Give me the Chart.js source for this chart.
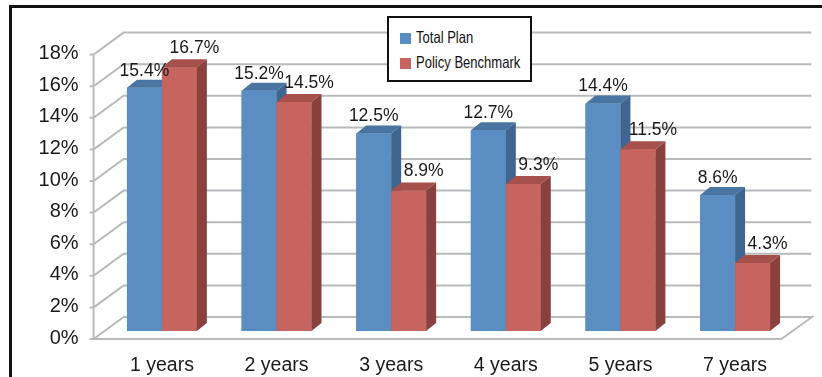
<!DOCTYPE html>
<html>
<head>
<meta charset="utf-8">
<script src="https://cdn.jsdelivr.net/npm/chart.js@4"></script>
<style>
  html, body { margin: 0; padding: 0; background: #fff; }
  #wrap { position: relative; width: 822px; height: 377px; overflow: hidden; }
  #frame { position: absolute; left: 9px; top: 5px; width: 830px; height: 400px;
    border-top: 3px solid #111; border-left: 3px solid #111; pointer-events: none; }
  #legend { position: absolute; left: 387px; top: 16px; width: 141px; height: 62px;
    border: 2px solid #111; background: #fff;
    font-family: "Liberation Sans", Arial, sans-serif; font-size: 16.5px; color: #111; }
  .item { position: absolute; left: 11px; height: 20px; line-height: 20px; white-space: nowrap; }
  .sw { display: inline-block; width: 11px; height: 11px; margin-right: 5px; vertical-align: -1px; }
  .txt { display: inline-block; transform: scaleX(0.79); transform-origin: left center; }
</style>
</head>
<body>
<div id="wrap">
  <canvas id="chart" width="822" height="377"></canvas>
  <div id="frame"></div>
  <div id="legend">
    <div class="item" style="top:9px"><span class="sw" style="background:#5a8ec3"></span><span class="txt">Total Plan</span></div>
    <div class="item" style="top:34px"><span class="sw" style="background:#c6645f"></span><span class="txt">Policy Benchmark</span></div>
  </div>
</div>
<script>
// du lieu doc tu hinh goc
const periods = ["1 years", "2 years", "3 years", "4 years", "5 years", "7 years"];
const totalPlan = [15.4, 15.2, 12.5, 12.7, 14.4, 8.6];
const policyBenchmark = [16.7, 14.5, 8.9, 9.3, 11.5, 4.3];
const yTicks = [0, 2, 4, 6, 8, 10, 12, 14, 16, 18];

// mau cho mat truoc, mat tren, mat ben cua cot 3D
const faces = [
  { front: "#5a8ec3", top: "#4a74a1", side: "#3e6690" },
  { front: "#c6645f", top: "#a6504c", side: "#8a413e" },
];
const depthX = 10, depthY = 8;

function drawBar3d(ctx, bar, c) {
  const l = bar.x - bar.width / 2, r = bar.x + bar.width / 2;
  bar.draw(ctx);
  // mat tren
  ctx.fillStyle = c.top;
  ctx.beginPath();
  ctx.moveTo(l, bar.y);
  ctx.lineTo(r, bar.y);
  ctx.lineTo(r + depthX, bar.y - depthY);
  ctx.lineTo(l + depthX, bar.y - depthY);
  ctx.closePath();
  ctx.fill();
  // mat ben
  ctx.fillStyle = c.side;
  ctx.beginPath();
  ctx.moveTo(r, bar.y);
  ctx.lineTo(r + depthX, bar.y - depthY);
  ctx.lineTo(r + depthX, bar.base - depthY);
  ctx.lineTo(r, bar.base);
  ctx.closePath();
  ctx.fill();
}

// ve tuong sau, san va luoi theo truc y, roi ve lai cot theo thu tu xanh -> do
const wallPlugin = {
  id: "wall",
  beforeDatasetsDraw(chart) {
    const { ctx, chartArea: a, scales } = chart;
    const y = scales.y;
    const fx = a.left - 11, bx = a.left + 19;
    ctx.save();
    ctx.strokeStyle = "#b8babd";
    ctx.lineWidth = 2;
    ctx.beginPath();
    yTicks.forEach((v) => {
      const py = y.getPixelForValue(v);
      ctx.moveTo(fx - 4, py + 8);
      ctx.lineTo(fx, py + 8);
      ctx.lineTo(bx, py - 14);
      ctx.lineTo(a.right + 19, py - 14);
    });
    const p0 = y.getPixelForValue(0);
    const pMax = y.getPixelForValue(yTicks[yTicks.length - 1]);
    ctx.moveTo(fx, pMax + 8);
    ctx.lineTo(fx, p0 + 8);
    ctx.lineTo(a.right - 11, p0 + 8);
    ctx.lineTo(a.right + 21, p0 - 15);
    ctx.stroke();
    ctx.restore();
  },
  afterDatasetsDraw(chart) {
    const { ctx } = chart;
    ctx.save();
    chart.data.datasets.forEach((ds, i) => {
      chart.getDatasetMeta(i).data.forEach((bar) => drawBar3d(ctx, bar, faces[i]));
    });
    ctx.font = '17.5px "Liberation Sans", Arial, sans-serif';
    ctx.fillStyle = "#1a1a1a";
    ctx.textAlign = "center";
    ctx.textBaseline = "middle";
    chart.data.datasets.forEach((ds, i) => {
      const meta = chart.getDatasetMeta(i);
      meta.data.forEach((bar, j) => {
        const dx = i === 0 ? 0 : 15;
        const dy = i === 0 ? -17 : -19;
        ctx.fillText(ds.data[j].toFixed(1) + "%", bar.x + dx, bar.y + dy);
      });
    });
    ctx.restore();
  },
};

new Chart(document.getElementById("chart"), {
  type: "bar",
  data: {
    labels: periods,
    datasets: [
      { label: "Total Plan", data: totalPlan, backgroundColor: faces[0].front },
      { label: "Policy Benchmark", data: policyBenchmark, backgroundColor: faces[1].front },
    ],
  },
  options: {
    responsive: false,
    animation: false,
    events: [],
    categoryPercentage: 0.61,
    barPercentage: 1.0,
    layout: { padding: { left: 0, right: 29.6, top: 46.6, bottom: 0 } },
    plugins: { legend: { display: false }, tooltip: { enabled: false } },
    scales: {
      x: {
        grid: { display: false },
        border: { display: false },
        ticks: {
          color: "#1a1a1a",
          padding: 15,
          font: { family: '"Liberation Sans", Arial, sans-serif', size: 19.5 },
        },
        afterFit(s) { s.height = 46; },
      },
      y: {
        min: 0,
        max: 18,
        grid: { display: false },
        border: { display: false },
        ticks: {
          stepSize: 2,
          color: "#1a1a1a",
          padding: 18,
          labelOffset: 7,
          font: { family: '"Liberation Sans", Arial, sans-serif', size: 20 },
          callback: (v) => v + "%",
        },
        afterFit(s) { s.width = 104.6; },
      },
    },
  },
  plugins: [wallPlugin],
});
</script>
</body>
</html>
